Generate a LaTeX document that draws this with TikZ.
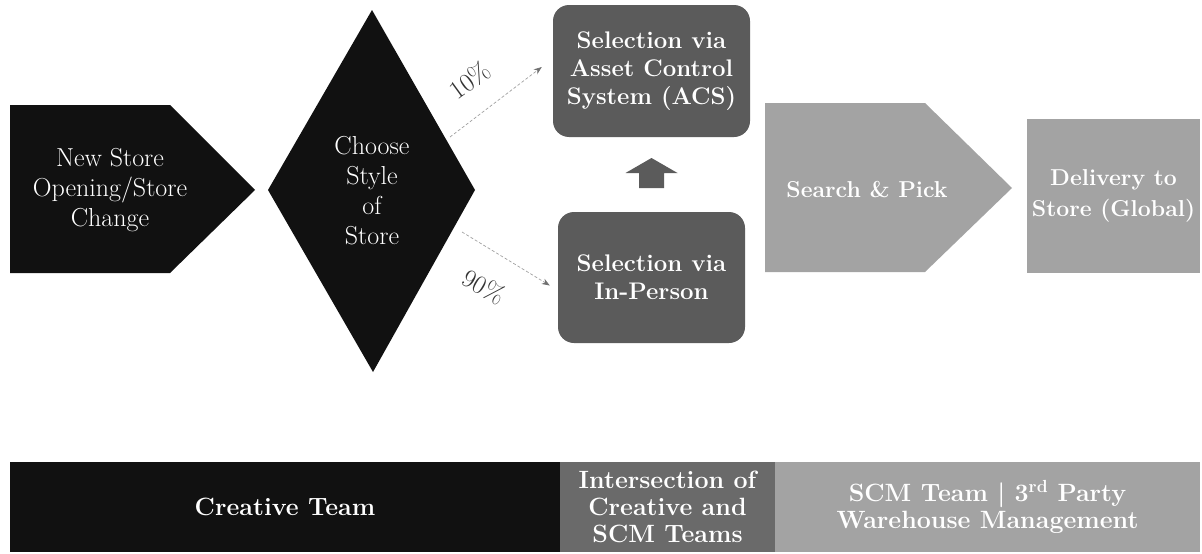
\documentclass[tikz,border=0pt]{standalone}
\usepackage{fontspec}
\usetikzlibrary{arrows.meta,calc}
\definecolor{blk}{HTML}{111111}
\definecolor{dgray}{HTML}{5B5B5B}
\definecolor{mgray}{HTML}{6A6A6A}
\definecolor{lgray}{HTML}{A3A3A3}
\definecolor{agray}{HTML}{A0A0A0}
\definecolor{tipgray}{HTML}{707070}
\tikzset{
  reg/.style={text=white, align=center, inner sep=0pt, font=\fontsize{26}{30}\selectfont},
  bld/.style={text=white, align=center, inner sep=0pt, font=\bfseries\fontsize{24}{28}\selectfont},
  rbox/.style={bld, fill=dgray, rounded corners=16pt, minimum width=197pt, minimum height=132pt},
  sqbox/.style={bld, fill=lgray, minimum width=173pt, minimum height=154pt, font=\bfseries\fontsize{23}{31}\selectfont},
  bar/.style={text=white, align=center, inner sep=0pt, minimum height=90pt, font=\bfseries\fontsize{25}{27}\selectfont},
  pct/.style={agray, line width=0.7pt, densely dashed, -{Stealth[length=8pt,width=6pt,color=tipgray]}},
  pctlbl/.style={text=black!80, inner sep=0pt, font=\fontsize{26}{30}\selectfont}
}
\begin{document}
\begin{tikzpicture}[x=1pt,y=-1pt]
\useasboundingbox (0,0) rectangle (1202,554);
% start pentagon
\fill[blk] (10,105) -- (170,105) -- (255,190) -- (170,273) -- (10,273) -- cycle;
\node[reg] (new) at (110,190) {New Store\\Opening/Store\\Change};
% decision diamond
\fill[blk] (372,10) -- (475,190) -- (373,372) -- (268,190) -- cycle;
\node[reg] (choose) at (372,191) {Choose\\Style\\of\\Store};
% selection boxes
\node[rbox] (acs) at (651.5,71) {Selection via\\Asset Control\\System (ACS)};
\node[rbox, minimum width=187pt, minimum height=131pt] (inp) at (651.5,277.5) {Selection via\\In-Person};
% percentage connectors
\coordinate (s10) at (450,137);
\coordinate (s90) at (462,232);
\draw[pct] (s10) -- ($(acs.west)+(-11,-4)$);
\draw[pct] (s90) -- ($(inp.west)+(-8,8)$);
\node[pctlbl, rotate=36] (p10) at (470,80) {10\%};
\node[pctlbl, rotate=-30] (p90) at (484,287) {90\%};
% block arrow from in-person up to ACS
\coordinate (up) at ($(inp.north)!0.5!(acs.south)$);
\begin{scope}[shift={(up)}]
\fill[dgray] (-12.5,13.5) -- (12.5,13.5) -- (12.5,-1.5) -- (26,-1.5) -- (0,-16.5) -- (-26,-1.5) -- (-12.5,-1.5) -- cycle;
\end{scope}
% search & pick
\fill[lgray] (765,103) -- (925,103) -- (1012,188) -- (925,272) -- (765,272) -- cycle;
\node[bld, font=\bfseries\fontsize{23}{28}\selectfont] (sp) at (867,190) {Search \& Pick};
% delivery
\node[sqbox] (del) at (1113.5,196) {Delivery to\\Store (Global)};
% bottom bar
\node[bar, fill=blk, minimum width=550pt] (cre) at (285,507) {Creative Team};
\node[bar, fill=mgray, minimum width=215pt] (int) at (667.5,507) {Intersection of\\Creative and\\SCM Teams};
\node[bar, fill=lgray, minimum width=425pt] (scm) at (987.5,507) {SCM Team | 3\textsuperscript{rd} Party\\Warehouse Management};
\end{tikzpicture}
\end{document}
